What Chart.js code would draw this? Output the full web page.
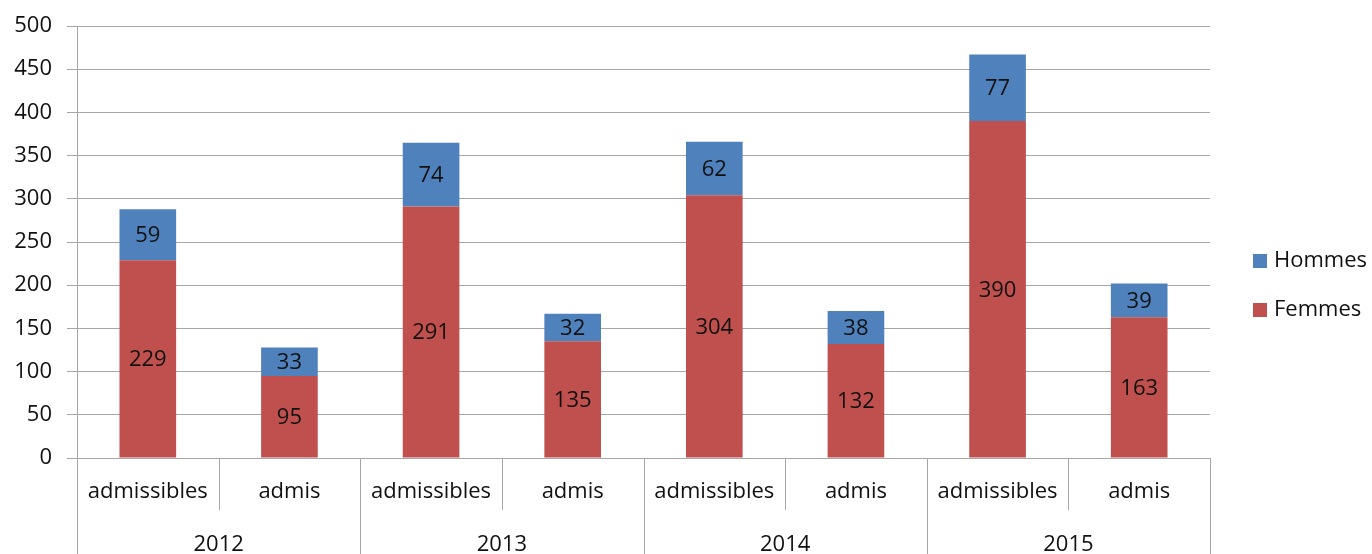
<!DOCTYPE html>
<html>
<head>
<meta charset="utf-8">
<script src="https://cdn.jsdelivr.net/npm/chart.js@4.4.1/dist/chart.umd.min.js"></script>
<style>
  html, body { margin: 0; padding: 0; background: #fff; }
  #wrap { width: 1372px; height: 554px; }
</style>
</head>
<body>
<div id="wrap"><canvas id="c" width="1372" height="554"></canvas></div>
<script>
// Concours results by year: admissible and admitted candidates, split by sex
const years = ['2012', '2013', '2014', '2015'];
const stages = ['admissibles', 'admis'];
const categories = ['admissibles', 'admis', 'admissibles', 'admis', 'admissibles', 'admis', 'admissibles', 'admis'];
const femmes = [229, 95, 291, 135, 304, 132, 390, 163];
const hommes = [59, 33, 74, 32, 62, 38, 77, 39];
const yTicks = [0, 50, 100, 150, 200, 250, 300, 350, 400, 450, 500];

const FONT = '"Open Sans", "Liberation Sans", sans-serif';
const TEXT = '#111111';
const GRID = '#a6a6a6';
const RED = '#C0504D';
const BLUE = '#4F81BD';

// Value labels centred inside each stacked segment
const segmentLabels = {
  id: 'segmentLabels',
  afterDatasetsDraw(chart) {
    const ctx = chart.ctx;
    ctx.save();
    ctx.font = '22px ' + FONT;
    ctx.fillStyle = TEXT;
    ctx.textAlign = 'center';
    ctx.textBaseline = 'middle';
    chart.data.datasets.forEach((ds, di) => {
      const meta = chart.getDatasetMeta(di);
      meta.data.forEach((bar, i) => {
        const p = bar.getProps(['x', 'y', 'base'], true);
        ctx.fillText(String(ds.data[i]), p.x, (p.y + p.base) / 2 + 1);
      });
    });
    ctx.restore();
  }
};

// Two-level category axis (stage / year) with separators, plus legend
const groupedAxis = {
  id: 'groupedAxis',
  afterDraw(chart) {
    const ctx = chart.ctx;
    const x = chart.scales.x;
    const area = chart.chartArea;
    const bottom = chart.height;
    const n = categories.length;
    const half = (x.getPixelForValue(1) - x.getPixelForValue(0)) / 2;
    ctx.save();
    ctx.strokeStyle = GRID;
    ctx.lineWidth = 1;
    // separators between stages (short) and between years (full height)
    for (let i = 0; i <= n; i++) {
      const px = Math.round(x.getPixelForValue(i) - half) + 0.5;
      const yearEdge = i % stages.length === 0;
      ctx.beginPath();
      ctx.moveTo(px, area.bottom);
      ctx.lineTo(px, yearEdge ? bottom : area.bottom + 52);
      ctx.stroke();
    }
    ctx.font = '22px ' + FONT;
    ctx.fillStyle = TEXT;
    ctx.textAlign = 'center';
    ctx.textBaseline = 'middle';
    categories.forEach((c, i) => {
      ctx.fillText(c, x.getPixelForValue(i), area.bottom + 34);
    });
    years.forEach((yr, g) => {
      const a = x.getPixelForValue(g * stages.length);
      const b = x.getPixelForValue(g * stages.length + stages.length - 1);
      ctx.fillText(yr, (a + b) / 2, area.bottom + 87);
    });

    // legend, series listed top to bottom as stacked
    const items = [
      { label: chart.data.datasets[1].label, color: chart.data.datasets[1].backgroundColor, y: 261 },
      { label: chart.data.datasets[0].label, color: chart.data.datasets[0].backgroundColor, y: 310 }
    ];
    ctx.textAlign = 'left';
    items.forEach(it => {
      ctx.fillStyle = it.color;
      ctx.fillRect(1253, it.y - 7, 14, 14);
      ctx.fillStyle = TEXT;
      ctx.fillText(it.label, 1274, it.y);
    });
    ctx.restore();
  }
};

new Chart(document.getElementById('c'), {
  type: 'bar',
  data: {
    labels: categories,
    datasets: [
      { label: 'Femmes', data: femmes, backgroundColor: RED },
      { label: 'Hommes', data: hommes, backgroundColor: BLUE }
    ]
  },
  options: {
    responsive: false,
    animation: false,
    events: [],
    layout: { padding: { top: 0, right: 162, left: 0, bottom: 0 } },
    datasets: { bar: { categoryPercentage: 1.0, barPercentage: 0.4 } },
    plugins: { legend: { display: false }, tooltip: { enabled: false } },
    scales: {
      x: {
        stacked: true,
        offset: true,
        grid: { display: false },
        border: { display: false },
        ticks: { display: false },
        afterFit(s) { s.height = 96; }
      },
      y: {
        stacked: true,
        min: 0,
        max: 500,
        afterBuildTicks(s) { s.ticks = yTicks.map(v => ({ value: v })); },
        grid: { color: GRID, lineWidth: 1, tickLength: 10, drawTicks: true },
        border: { display: true, color: GRID, width: 1 },
        ticks: { color: TEXT, padding: 15, font: { family: FONT, size: 22 } },
        afterFit(s) { s.width = 77; s.paddingTop = 26; }
      }
    }
  },
  plugins: [segmentLabels, groupedAxis]
});
</script>
</body>
</html>
